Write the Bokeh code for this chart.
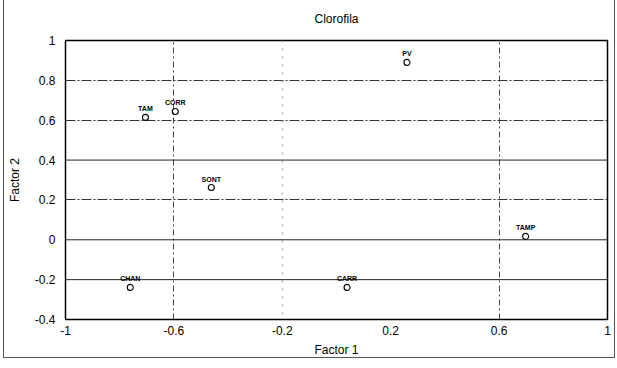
from bokeh.plotting import figure
from bokeh.models import CustomJSTickFormatter, FixedTicker, Range1d, ColumnDataSource, LabelSet, Span
from bokeh.core.properties import value
from bokeh.embed import file_html
from bokeh.resources import INLINE

names = ["PV", "TAM", "CORR", "SONT", "TAMP", "CHAN", "CARR"]
factor1 = [0.26, -0.705, -0.595, -0.462, 0.698, -0.761, 0.039]
factor2 = [0.89, 0.614, 0.644, 0.262, 0.017, -0.239, -0.239]
x_ticks = [-1, -0.6, -0.2, 0.2, 0.6, 1]
y_ticks = [-0.4, -0.2, 0, 0.2, 0.4, 0.6, 0.8, 1]

FONT = "Liberation Sans"

p = figure(width=612, height=364, output_backend="svg", toolbar_location=None,
           x_range=Range1d(-1, 1), y_range=Range1d(-0.4, 1),
           title="Clorofila", min_border_left=40, min_border_right=9,
           min_border_top=0, min_border_bottom=0)
p.margin = (-6, 0, 0, 3)
p.styles = {"border": "1px solid #555"}

p.title.align = "center"
p.title.text_font = FONT
p.title.text_font_size = "12px"
p.title.text_font_style = "normal"
p.title.text_color = "black"
p.title.text_line_height = 0.9
p.title.standoff = 29

p.outline_line_color = "black"
p.outline_line_width = 1.5

fmt = CustomJSTickFormatter(code="return String(Math.round(tick*10)/10);")
for ax in (p.xaxis[0], p.yaxis[0]):
    ax.formatter = fmt
    ax.major_tick_line_color = None
    ax.minor_tick_line_color = None
    ax.axis_line_color = None
    ax.major_label_text_font = FONT
    ax.major_label_text_font_size = "12px"
    ax.major_label_text_color = "black"
    ax.axis_label_text_font = FONT
    ax.axis_label_text_font_size = "12px"
    ax.axis_label_text_font_style = "normal"
    ax.axis_label_text_color = "black"
p.xaxis[0].ticker = FixedTicker(ticks=x_ticks)
p.yaxis[0].ticker = FixedTicker(ticks=y_ticks)
p.xaxis.axis_label = "Factor 1"
p.yaxis.axis_label = "Factor 2"
p.xaxis.major_label_standoff = 0
p.yaxis.major_label_standoff = 4
p.xaxis.axis_label_standoff = 5
p.yaxis.axis_label_standoff = 10

p.xgrid.ticker = FixedTicker(ticks=[-0.6, 0.6])
p.xgrid.grid_line_color = "#444"
p.xgrid.grid_line_dash = "6 3 2 3"
p.ygrid.ticker = FixedTicker(ticks=[0.2, 0.6, 0.8])
p.ygrid.grid_line_color = "#333"
p.ygrid.grid_line_dash = "10 2 2 2"

p.add_layout(Span(location=-0.2, dimension="height", line_color="#999", line_width=1, line_dash="2 6"))
for yv in [0.4, 0, -0.2]:
    p.add_layout(Span(location=yv, dimension="width", line_color="#222", line_width=1))

src = ColumnDataSource(dict(x=factor1, y=factor2, name=names))
p.scatter("x", "y", source=src, size=6, fill_color=None, line_color="black", line_width=1.1)
p.add_layout(LabelSet(x="x", y="y", text="name", source=src, x_offset=0, y_offset=5,
                      text_align="center", text_baseline="bottom", text_font=value(FONT),
                      text_font_size="7px", text_font_style="bold", text_color="black"))

open("out.html", "w").write(file_html(p, INLINE))
